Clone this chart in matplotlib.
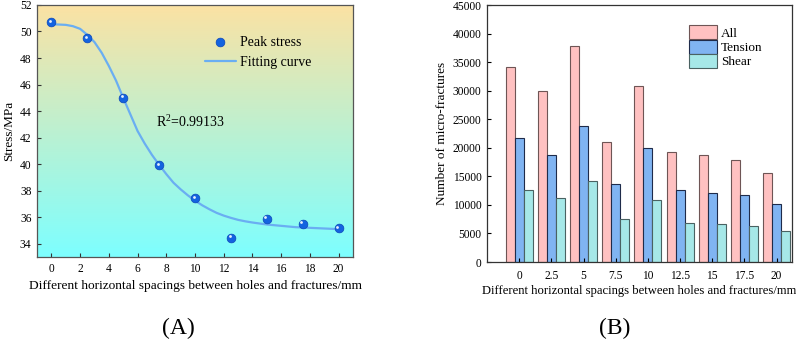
import numpy as np
import matplotlib
matplotlib.use("Agg")
import matplotlib.pyplot as plt
from matplotlib.transforms import offset_copy

plt.rcParams['font.family'] = ['Liberation Serif', 'DejaVu Serif']
plt.rcParams['mathtext.fontset'] = 'custom'
plt.rcParams['mathtext.rm'] = 'Liberation Serif'

# ---- Panel A data ----
spacing = [0, 2.5, 5, 7.5, 10, 12.5, 15, 17.5, 20]
peak_stress = [50.7, 49.5, 45.0, 39.9, 37.45, 34.45, 35.9, 35.5, 35.15]
fit_x = [0, 1, 1.5, 2, 2.5, 3, 3.5, 4, 4.5, 5, 5.5, 6, 6.5, 7, 7.5, 8, 8.5, 9, 9.5,
         10, 10.5, 11, 11.5, 12, 12.5, 13, 13.5, 14, 15, 16, 17, 18, 19, 20]
fit_y = [50.55, 50.5, 50.4, 50.2, 49.75, 49.2, 48.4, 47.4, 46.3, 45.0, 43.75, 42.5,
         41.55, 40.7, 39.95, 39.25, 38.6, 38.1, 37.65,
         37.25, 36.9, 36.6, 36.33, 36.12, 35.95, 35.8, 35.69, 35.6, 35.45, 35.35,
         35.25, 35.2, 35.15, 35.1]
r2_text = "R$^2$=0.99133"

# ---- Panel B data ----
categories = ['0', '2.5', '5', '7.5', '10', '12.5', '15', '17.5', '20']
all_counts = [34200, 29950, 37850, 20950, 30900, 19300, 18800, 17950, 15650]
tension_counts = [21650, 18700, 23750, 13600, 19950, 12550, 12150, 11700, 10100]
shear_counts = [12550, 11300, 14150, 7450, 10850, 6750, 6700, 6300, 5500]

fig = plt.figure(figsize=(7.96, 3.42), dpi=100)

# ================= Panel A =================
axA = fig.add_axes([0.0465, 0.2485, 0.397, 0.737])
top = np.array([252, 226, 163]) / 255.0
bot = np.array([125, 255, 255]) / 255.0
t = np.linspace(0, 1, 256)[:, None]
grad = (top[None, :] * (1 - t) + bot[None, :] * t)[:, None, :]
axA.imshow(grad, extent=[-1, 21, 33, 52], aspect='auto', origin='upper', zorder=0)
axA.set_xlim(-1, 21)
axA.set_ylim(33, 52)

axA.plot(fit_x, fit_y, color='#6aaef2', lw=1.6, zorder=2, label='Fitting curve',
         solid_capstyle='round', solid_joinstyle='round')
axA.plot(spacing, peak_stress, 'o', ms=6.3, color='#1463e0', mec='#0a45b8', mew=0.5,
         zorder=3, label='Peak stress', linestyle='none')
hl = offset_copy(axA.transData, fig=fig, x=-1.0, y=1.0, units='points')
axA.plot(spacing, peak_stress, 'o', ms=2.0, color='white', mec='none', alpha=0.9,
         transform=hl, zorder=4)

axA.text(9.67, 43.2, r2_text, fontsize=10, ha='center', va='center')

axA.set_xticks(np.arange(0, 21, 2))
axA.set_yticks(np.arange(34, 53, 2))
axA.tick_params(direction='in', length=3, width=0.8, labelsize=8.3, pad=4, color='#333333')
axA.set_xlabel('Different horizontal spacings between holes and fractures/mm',
               fontsize=9.6, labelpad=4)
axA.set_ylabel('Stress/MPa', fontsize=9.5, labelpad=3)
for s in axA.spines.values():
    s.set_color('#555555')
    s.set_linewidth(0.9)
hA, lA = axA.get_legend_handles_labels()
axA.legend([hA[1], hA[0]], [lA[1], lA[0]], loc='upper left', frameon=False,
           fontsize=10, bbox_to_anchor=(0.53, 0.875), handlelength=2.3,
           handletextpad=0.25, labelspacing=0.45, borderpad=0, borderaxespad=0)

fig.text(0.224, 0.04, '(A)', fontsize=17, ha='center', va='center')

# ================= Panel B =================
axB = fig.add_axes([0.6118, 0.2339, 0.3828, 0.751])
x = np.arange(len(categories))
w = 0.28
axB.bar(x - w, all_counts, w, color='#ffc1c1', edgecolor='#6e5555', lw=0.8, label='All')
axB.bar(x, tension_counts, w, color='#80b4f2', edgecolor='#1f2b4a', lw=0.8, label='Tension')
axB.bar(x + w, shear_counts, w, color='#a6e8e8', edgecolor='#4a6262', lw=0.8, label='Shear')
axB.set_xlim(-1, 8.47)
axB.set_ylim(0, 45000)
axB.set_xticks(x)
axB.set_xticklabels(categories)
axB.set_yticks(np.arange(0, 45001, 5000))
axB.tick_params(axis='y', direction='in', length=3, width=0.8, labelsize=8.3, pad=4)
axB.tick_params(axis='x', direction='in', length=3, width=0.8, labelsize=8.3, pad=6)
axB.set_xlabel('Different horizontal spacings between holes and fractures/mm',
               fontsize=9.1, labelpad=2)
axB.set_ylabel('Number of micro-fractures', fontsize=9.5, labelpad=3)
for s in axB.spines.values():
    s.set_color('#333333')
    s.set_linewidth(0.9)
axB.legend(loc='upper left', frameon=False, fontsize=9.5, bbox_to_anchor=(0.663, 0.922),
           handlelength=2.1, handleheight=1.25, handletextpad=0.3, labelspacing=0.0,
           borderaxespad=0.0, borderpad=0.0)

fig.text(0.7725, 0.04, '(B)', fontsize=17, ha='center', va='center')

fig.savefig('out.png', dpi=100)
